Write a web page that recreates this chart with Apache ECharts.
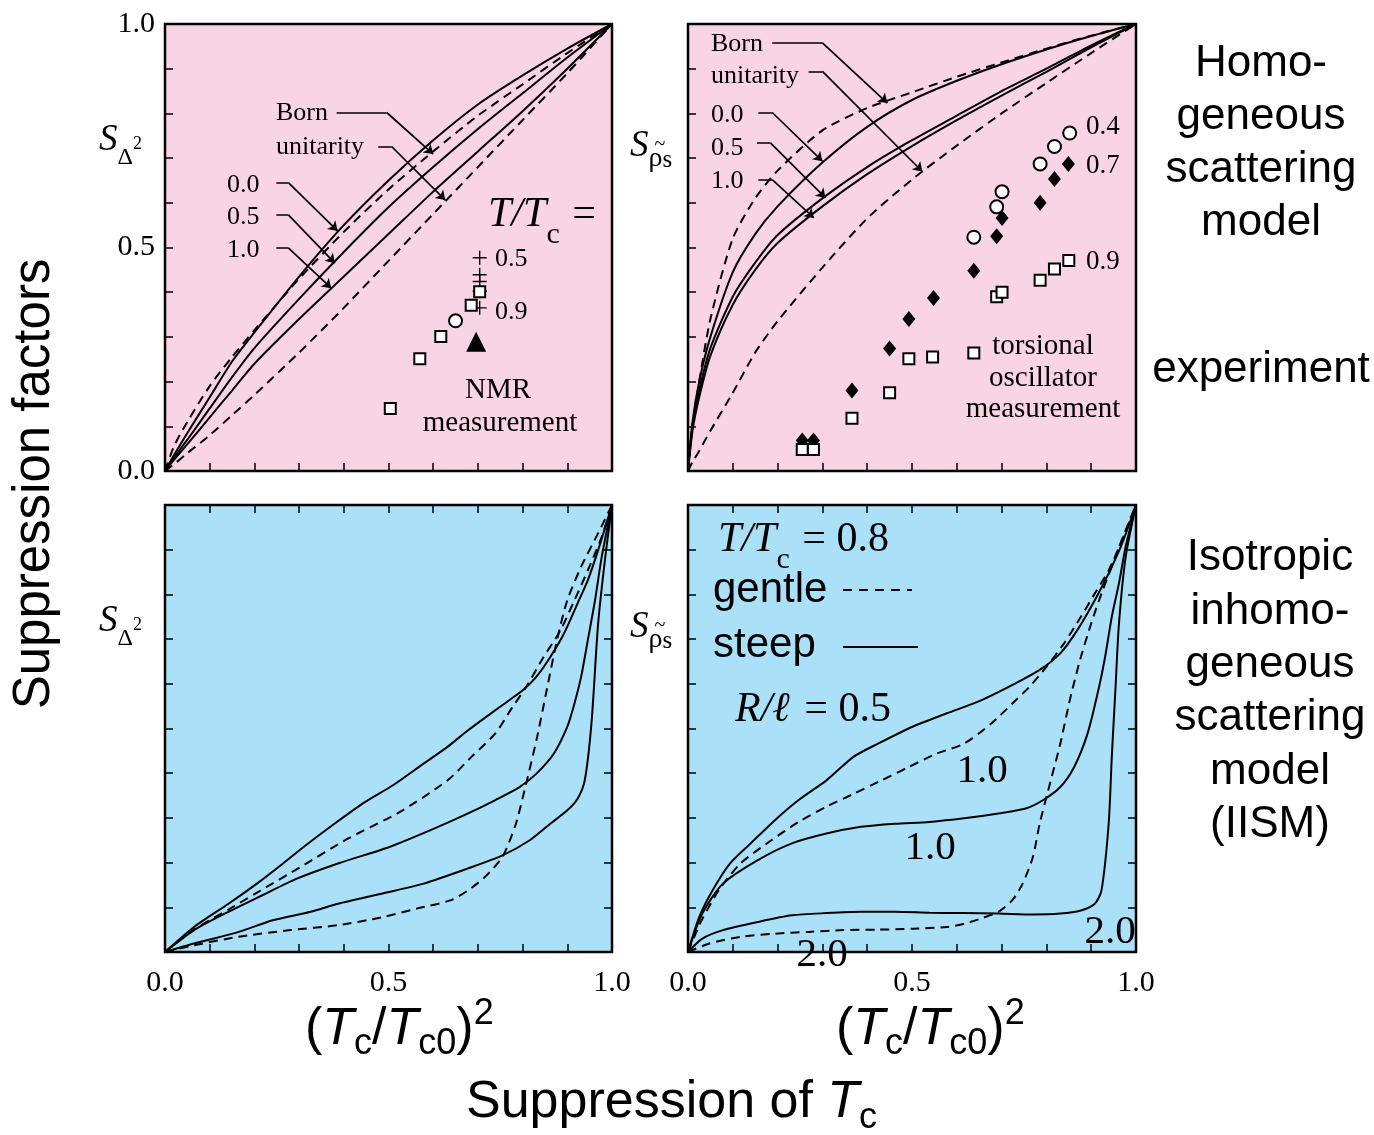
<!DOCTYPE html>
<html>
<head>
<meta charset="utf-8">
<title>Suppression factors</title>
<script src="https://cdn.jsdelivr.net/npm/echarts@6.0.0/dist/echarts.min.js"></script>
<style>
  html, body { margin: 0; padding: 0; background: #fff; }
  #chart { width: 1374px; height: 1135px; }
</style>
</head>
<body>
<div id="chart"></div>
<script>
// ---------- data ----------
// homogeneous model, S_Delta^2 (top left)
const tlX    = [0, 0.02, 0.05, 0.1, 0.15, 0.2, 0.3, 0.4, 0.5, 0.6, 0.7, 0.8, 0.9, 1];
const tlBorn = [0, 0.055, 0.11, 0.19, 0.255, 0.315, 0.43, 0.535, 0.63, 0.715, 0.795, 0.865, 0.935, 1];
const tlUnit = [0, 0.015, 0.04, 0.08, 0.125, 0.17, 0.265, 0.365, 0.47, 0.575, 0.68, 0.785, 0.89, 1];
const tlS00  = [0, 0.035, 0.085, 0.165, 0.245, 0.31, 0.435, 0.55, 0.65, 0.74, 0.82, 0.885, 0.945, 1];
const tlS05  = [0, 0.03, 0.07, 0.14, 0.21, 0.275, 0.385, 0.49, 0.59, 0.68, 0.765, 0.845, 0.925, 1];
const tlS10  = [0, 0.025, 0.06, 0.12, 0.18, 0.24, 0.34, 0.435, 0.53, 0.625, 0.715, 0.805, 0.9, 1];
// NMR measurement
const nmrSquares   = [[0.504, 0.14], [0.57, 0.251], [0.617, 0.301], [0.685, 0.371], [0.704, 0.401]];
const nmrCircles   = [[0.65, 0.336]];
const nmrTriangles = [[0.696, 0.289]];
const nmrPlus      = [[0.704, 0.477], [0.704, 0.439], [0.704, 0.424], [0.704, 0.402], [0.704, 0.365]];

// homogeneous model, S_rho_s (top right)
const trX    = [0, 0.01, 0.025, 0.05, 0.1, 0.15, 0.2, 0.3, 0.4, 0.5, 0.6, 0.7, 0.8, 0.9, 1];
const trBorn = [0, 0.1, 0.2, 0.34, 0.52, 0.61, 0.672, 0.762, 0.812, 0.847, 0.882, 0.914, 0.945, 0.974, 1];
const trUnit = [0, 0.02, 0.045, 0.09, 0.175, 0.265, 0.335, 0.455, 0.565, 0.652, 0.728, 0.8, 0.868, 0.935, 1];
const trS00  = [0, 0.11, 0.2, 0.3, 0.445, 0.53, 0.592, 0.69, 0.77, 0.83, 0.873, 0.91, 0.943, 0.973, 1];
const trS05  = [0, 0.1, 0.18, 0.275, 0.39, 0.466, 0.528, 0.61, 0.68, 0.74, 0.795, 0.85, 0.9, 0.952, 1];
const trS10  = [0, 0.09, 0.165, 0.258, 0.372, 0.45, 0.51, 0.592, 0.664, 0.727, 0.785, 0.84, 0.893, 0.948, 1];
// torsional oscillator measurement (T/Tc = 0.4, 0.7, 0.9)
const toCircles  = [[0.638, 0.523], [0.689, 0.591], [0.701, 0.625], [0.786, 0.687], [0.818, 0.726], [0.852, 0.756]];
const toDiamonds = [[0.255, 0.068], [0.28, 0.068], [0.366, 0.18], [0.45, 0.274], [0.493, 0.34], [0.548, 0.387],
                    [0.638, 0.448], [0.689, 0.525], [0.701, 0.566], [0.786, 0.6], [0.818, 0.653], [0.849, 0.687]];
const toSquares  = [[0.255, 0.048], [0.28, 0.048], [0.366, 0.118], [0.45, 0.175], [0.493, 0.251], [0.546, 0.255],
                    [0.638, 0.264], [0.689, 0.39], [0.701, 0.4], [0.786, 0.427], [0.818, 0.452], [0.85, 0.471]];

// IISM, S_Delta^2 (bottom left)
const blSteep05  = [[0,0],[0.065,0.056],[0.142,0.108],[0.211,0.157],[0.264,0.198],[0.31,0.235],[0.379,0.287],[0.448,0.336],[0.51,0.373],[0.579,0.422],[0.632,0.459],[0.678,0.496],[0.739,0.541],[0.801,0.586],[0.831,0.616],[0.862,0.66],[0.893,0.713],[0.923,0.78],[0.946,0.832],[0.969,0.899],[1,1]];
const blGentle10 = [[0,0],[0.065,0.05],[0.142,0.095],[0.203,0.131],[0.303,0.19],[0.41,0.254],[0.525,0.313],[0.632,0.384],[0.686,0.437],[0.739,0.489],[0.778,0.549],[0.808,0.593],[0.847,0.66],[0.885,0.72],[0.916,0.787],[0.946,0.854],[0.977,0.929],[1,1]];
const blSteep10  = [[0,0],[0.065,0.049],[0.142,0.09],[0.218,0.127],[0.295,0.164],[0.387,0.198],[0.502,0.235],[0.602,0.276],[0.678,0.31],[0.739,0.34],[0.793,0.369],[0.831,0.399],[0.87,0.444],[0.9,0.504],[0.916,0.556],[0.931,0.616],[0.946,0.698],[0.962,0.787],[0.977,0.884],[1,1]];
const blSteep20  = [[0,0],[0.065,0.019],[0.165,0.045],[0.241,0.071],[0.326,0.09],[0.387,0.108],[0.487,0.131],[0.579,0.153],[0.678,0.187],[0.755,0.216],[0.816,0.25],[0.862,0.287],[0.9,0.317],[0.923,0.343],[0.939,0.384],[0.954,0.511],[0.969,0.735],[0.985,0.884],[1,1]];
const blGentle20 = [[0,0],[0.065,0.015],[0.165,0.034],[0.28,0.049],[0.387,0.06],[0.487,0.078],[0.563,0.097],[0.64,0.116],[0.678,0.138],[0.716,0.168],[0.755,0.213],[0.785,0.287],[0.808,0.377],[0.831,0.474],[0.854,0.586],[0.877,0.698],[0.9,0.787],[0.931,0.862],[0.969,0.937],[1,1]];

// IISM, S_rho_s (bottom right)
const brSteep05  = [[0,0],[0.025,0.078],[0.055,0.138],[0.094,0.198],[0.14,0.243],[0.194,0.295],[0.247,0.34],[0.309,0.384],[0.37,0.437],[0.424,0.466],[0.501,0.504],[0.578,0.534],[0.654,0.563],[0.731,0.601],[0.785,0.631],[0.831,0.668],[0.869,0.72],[0.908,0.787],[0.939,0.847],[0.969,0.914],[1,1]];
const brGentle10 = [[0,0],[0.03,0.07],[0.07,0.14],[0.117,0.198],[0.186,0.25],[0.247,0.291],[0.309,0.325],[0.37,0.354],[0.432,0.384],[0.493,0.414],[0.555,0.444],[0.616,0.466],[0.677,0.511],[0.724,0.556],[0.762,0.593],[0.8,0.638],[0.839,0.69],[0.877,0.75],[0.908,0.802],[0.939,0.854],[0.969,0.922],[1,1]];
const brSteep10  = [[0,0],[0.032,0.086],[0.078,0.153],[0.155,0.205],[0.232,0.243],[0.309,0.265],[0.386,0.28],[0.462,0.287],[0.539,0.291],[0.616,0.299],[0.693,0.31],[0.754,0.321],[0.793,0.34],[0.831,0.369],[0.862,0.414],[0.892,0.489],[0.916,0.586],[0.931,0.66],[0.946,0.75],[0.962,0.825],[0.977,0.907],[1,1]];
const brSteep20  = [[0,0],[0.032,0.03],[0.078,0.049],[0.155,0.067],[0.232,0.082],[0.309,0.087],[0.386,0.09],[0.462,0.09],[0.539,0.088],[0.616,0.087],[0.693,0.086],[0.77,0.084],[0.831,0.086],[0.877,0.093],[0.908,0.108],[0.923,0.138],[0.939,0.287],[0.946,0.437],[0.954,0.586],[0.962,0.735],[0.977,0.884],[1,1]];
const brGentle20 = [[0,0],[0.048,0.019],[0.117,0.034],[0.194,0.041],[0.27,0.045],[0.347,0.049],[0.424,0.05],[0.501,0.052],[0.578,0.056],[0.616,0.063],[0.654,0.075],[0.693,0.09],[0.724,0.116],[0.747,0.153],[0.77,0.213],[0.785,0.287],[0.808,0.377],[0.831,0.466],[0.854,0.571],[0.877,0.66],[0.9,0.735],[0.923,0.802],[0.954,0.884],[0.977,0.944],[1,1]];

// ---------- annotation leaders (axis units) ----------
const tlLeaders = [
  [[0.384, 0.802], [0.496, 0.802], [0.600, 0.709]],   // Born
  [[0.477, 0.726], [0.507, 0.726], [0.627, 0.606]],   // unitarity
  [[0.249, 0.645], [0.276, 0.645], [0.386, 0.537]],   // 0.0
  [[0.249, 0.573], [0.276, 0.573], [0.380, 0.465]],   // 0.5
  [[0.249, 0.499], [0.276, 0.499], [0.372, 0.409]]    // 1.0
];
const trLeaders = [
  [[0.188, 0.958], [0.300, 0.958], [0.445, 0.823]],
  [[0.269, 0.894], [0.300, 0.894], [0.523, 0.670]],
  [[0.157, 0.802], [0.188, 0.802], [0.300, 0.693]],
  [[0.154, 0.734], [0.184, 0.734], [0.307, 0.611]],
  [[0.157, 0.652], [0.188, 0.652], [0.281, 0.566]]
];

// ---------- helpers ----------
const serif = '"Liberation Serif", "Times New Roman", serif';
const sans = '"Liberation Sans", Arial, sans-serif';
const pink = '#F8D4E4';
const blue = '#ABE0F9';

const pairs = (xs, ys) => xs.map((x, i) => [x, ys[i]]);

function tickLabel(v) {
  const r = Math.round(v * 2) / 2;
  return Math.abs(v - r) < 1e-6 ? r.toFixed(1) : '';
}

const tickStyle = { show: true, inside: true, length: 8, lineStyle: { color: '#000', width: 1.5 } };

function xAx(grid, pos, labels) {
  return {
    type: 'value', gridIndex: grid, position: pos, min: 0, max: 1, interval: 0.1,
    axisLine: { show: false, onZero: false }, splitLine: { show: false },
    axisTick: tickStyle,
    axisLabel: { show: labels, margin: 16, fontFamily: serif, fontSize: 30, color: '#000', formatter: tickLabel }
  };
}
function yAx(grid, pos, labels) {
  return {
    type: 'value', gridIndex: grid, position: pos, min: 0, max: 1, interval: 0.1,
    axisLine: { show: false, onZero: false }, splitLine: { show: false },
    axisTick: tickStyle,
    axisLabel: { show: labels, margin: 10, fontFamily: serif, fontSize: 30, color: '#000', formatter: tickLabel }
  };
}

function curve(pts, ai, dashed) {
  return {
    type: 'line', xAxisIndex: ai, yAxisIndex: ai, data: pts, showSymbol: false,
    smooth: 0.25, silent: true, z: 3,
    lineStyle: { color: '#000', width: 2, type: dashed ? [9, 6] : 'solid' }
  };
}
function marks(pts, ai, symbol, size, fill, border, z) {
  return {
    type: 'scatter', xAxisIndex: ai, yAxisIndex: ai, data: pts, symbol: symbol, symbolSize: size,
    silent: true, z: z,
    itemStyle: { color: fill, borderColor: '#000', borderWidth: border, opacity: 1 }
  };
}
function leaders(list, ai) {
  return [
    {
      type: 'lines', coordinateSystem: 'cartesian2d', xAxisIndex: ai, yAxisIndex: ai,
      symbol: 'none', silent: true, z: 6,
      lineStyle: { color: '#000', width: 1.7, opacity: 1 },
      data: list.map(l => ({ coords: [l[0], l[1]] }))
    },
    {
      type: 'lines', coordinateSystem: 'cartesian2d', xAxisIndex: ai, yAxisIndex: ai,
      symbol: ['none', 'arrow'], symbolSize: 9, silent: true, z: 6,
      lineStyle: { color: '#000', width: 1.7, opacity: 1 },
      data: list.map(l => ({ coords: [l[1], l[2]] }))
    }
  ];
}

const plusPath = 'path://M9,0H11V9H20V11H11V20H9V11H0V9H9Z';

// text pieces laid out left to right
const meas = document.createElement('canvas').getContext('2d');
const texts = [];
function run(x, y, parts) {
  let cx = x;
  parts.forEach(p => {
    const font = (p.it ? 'italic ' : '') + p.size + 'px ' + (p.fam || serif);
    cx += p.dx || 0;
    texts.push({
      type: 'text', x: cx, y: y + (p.dy || 0), z: 100, silent: true,
      style: { text: p.t, font: font, fill: '#000', textAlign: 'left', textVerticalAlign: 'middle' }
    });
    meas.font = font;
    cx += meas.measureText(p.t).width;
  });
}
function label(x, y, t, size, fam, align, extra) {
  texts.push(Object.assign({
    type: 'text', x: x, y: y, z: 100, silent: true,
    style: { text: t, font: size + 'px ' + (fam || serif), fill: '#000', textAlign: align || 'center', textVerticalAlign: 'middle' }
  }, extra || {}));
}

// axis titles
label(35, 484, 'Suppression factors', 51, sans, 'center', { rotation: Math.PI / 2 });
run(466, 1103, [{ t: 'Suppression of ', size: 52, fam: sans }, { t: 'T', size: 52, fam: sans, it: true }, { t: 'c', size: 36, fam: sans, dy: 15 }]);
[305, 836].forEach(x0 => {
  run(x0, 1030, [
    { t: '(', size: 52, fam: sans }, { t: 'T', size: 52, fam: sans, it: true }, { t: 'c', size: 36, fam: sans, dy: 14 },
    { t: '/', size: 52, fam: sans }, { t: 'T', size: 52, fam: sans, it: true }, { t: 'c0', size: 36, fam: sans, dy: 14 },
    { t: ')', size: 52, fam: sans }, { t: '2', size: 36, fam: sans, dy: -16 }
  ]);
});

// panel y labels
[0, 481].forEach(dy => {
  run(99, 140 + dy, [{ t: 'S', size: 37, it: true }, { t: 'Δ', size: 24, dy: 18 }, { t: '2', size: 18, dy: 4 }]);
  run(630, 146 + dy, [{ t: 'S', size: 37, it: true }, { t: 'ρ', size: 28, dy: 13 }, { t: 's', size: 25, dy: 14 }]);
  label(660, 145 + dy, '~', 20, serif, 'center');
});

// right side descriptions
['Homo-', 'geneous', 'scattering', 'model'].forEach((t, i) => label(1261, 64 + i * 53, t, 44, sans));
label(1261, 370, 'experiment', 44, sans);
['Isotropic', 'inhomo-', 'geneous', 'scattering', 'model', '(IISM)'].forEach((t, i) => label(1270, 558 + i * 53.4, t, 44, sans));

// top-left annotations
label(276, 113, 'Born', 26, serif, 'left');
label(276, 147, 'unitarity', 26, serif, 'left');
label(227, 185, '0.0', 26, serif, 'left');
label(227, 217, '0.5', 26, serif, 'left');
label(227, 250, '1.0', 26, serif, 'left');
run(488, 215, [{ t: 'T/T', size: 42, it: true }, { t: 'c', size: 30, dy: 20 }, { t: ' =', size: 42, dx: 2 }]);
label(495, 259, '0.5', 26, serif, 'left');
label(495, 312, '0.9', 26, serif, 'left');
label(498, 390, 'NMR', 29, serif);
label(500, 423, 'measurement', 29, serif);

// top-right annotations
label(711, 44, 'Born', 26, serif, 'left');
label(711, 76, 'unitarity', 26, serif, 'left');
label(711, 115, '0.0', 26, serif, 'left');
label(711, 148, '0.5', 26, serif, 'left');
label(711, 181, '1.0', 26, serif, 'left');
label(1086, 127, '0.4', 27, serif, 'left');
label(1086, 166, '0.7', 27, serif, 'left');
label(1086, 262, '0.9', 27, serif, 'left');
label(1043, 346, 'torsional', 29, serif);
label(1043, 378, 'oscillator', 29, serif);
label(1043, 409, 'measurement', 29, serif);

// bottom-right legend and labels
run(718, 540, [{ t: 'T/T', size: 42, it: true }, { t: 'c', size: 30, dy: 20 }, { t: ' = 0.8', size: 42, dx: 2 }]);
label(713, 590, 'gentle', 42, sans, 'left');
label(713, 645, 'steep', 42, sans, 'left');
run(735, 710, [{ t: 'R/ℓ', size: 42, it: true }, { t: ' = 0.5', size: 42, dx: 4 }]);
label(982, 771, '1.0', 41, serif);
label(930, 848, '1.0', 41, serif);
label(822, 955, '2.0', 41, serif);
label(1110, 932, '2.0', 41, serif);
texts.push({ type: 'line', z: 100, silent: true, shape: { x1: 843, y1: 590, x2: 912, y2: 590 }, style: { stroke: '#000', lineWidth: 2, lineDash: [9, 7] } });
texts.push({ type: 'line', z: 100, silent: true, shape: { x1: 843, y1: 647, x2: 918, y2: 647 }, style: { stroke: '#000', lineWidth: 2 } });

// ---------- chart ----------
const chart = echarts.init(document.getElementById('chart'));
const gridBox = (left, top, width, bg) => ({ left: left, top: top, width: width, height: 447, show: true, backgroundColor: bg, borderColor: '#000', borderWidth: 2.5 });

chart.setOption({
  animation: false,
  backgroundColor: '#fff',
  grid: [
    gridBox(165, 24, 447, pink),
    gridBox(688, 24, 448, pink),
    gridBox(165, 505, 447, blue),
    gridBox(688, 505, 448, blue)
  ],
  xAxis: [
    xAx(0, 'bottom', false), xAx(1, 'bottom', false), xAx(2, 'bottom', true), xAx(3, 'bottom', true),
    xAx(2, 'top', false), xAx(3, 'top', false)
  ],
  yAxis: [
    yAx(0, 'left', true), yAx(1, 'left', false), yAx(2, 'left', false), yAx(3, 'left', false),
    yAx(2, 'right', false), yAx(3, 'right', false)
  ],
  series: [
    curve(pairs(tlX, tlBorn), 0, true),
    curve(pairs(tlX, tlUnit), 0, true),
    curve(pairs(tlX, tlS00), 0, false),
    curve(pairs(tlX, tlS05), 0, false),
    curve(pairs(tlX, tlS10), 0, false),
    marks(nmrPlus, 0, plusPath, 14, '#000', 0, 7),
    marks(nmrSquares, 0, 'rect', 11, '#fff', 2, 8),
    marks(nmrCircles, 0, 'circle', 13, '#fff', 2, 8),
    marks(nmrTriangles, 0, 'triangle', 20, '#000', 0, 8),
    ...leaders(tlLeaders, 0),

    curve(pairs(trX, trBorn), 1, true),
    curve(pairs(trX, trUnit), 1, true),
    curve(pairs(trX, trS00), 1, false),
    curve(pairs(trX, trS05), 1, false),
    curve(pairs(trX, trS10), 1, false),
    marks(toDiamonds, 1, 'diamond', [13, 16], '#000', 0, 7),
    marks(toSquares, 1, 'rect', 11, '#fff', 2, 8),
    marks(toCircles, 1, 'circle', 13, '#fff', 2, 8),
    ...leaders(trLeaders, 1),

    curve(blSteep05, 2, false),
    curve(blGentle10, 2, true),
    curve(blSteep10, 2, false),
    curve(blSteep20, 2, false),
    curve(blGentle20, 2, true),

    curve(brSteep05, 3, false),
    curve(brGentle10, 3, true),
    curve(brSteep10, 3, false),
    curve(brSteep20, 3, false),
    curve(brGentle20, 3, true)
  ],
  graphic: texts
});
</script>
</body>
</html>
